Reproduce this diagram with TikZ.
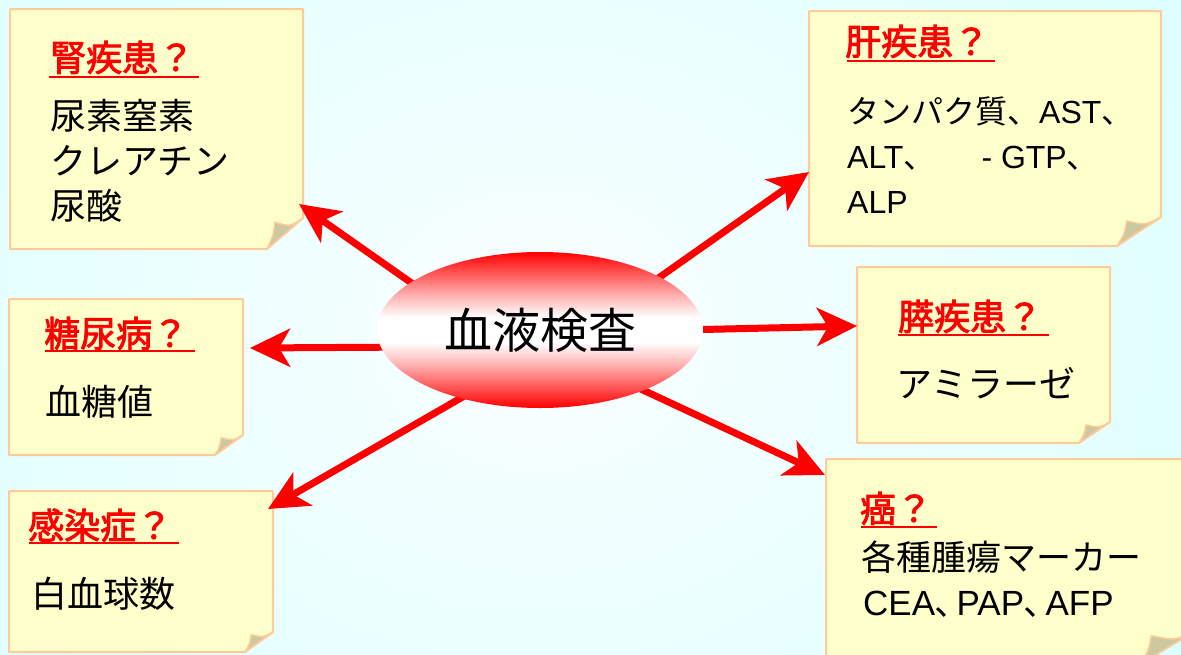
\documentclass[tikz,border=0pt]{standalone}
\usepackage{fontspec}
\setmainfont{Liberation Sans}
\newfontfamily\jp{Noto Sans CJK JP}
\newfontfamily\jpb[FakeBold=2.5]{Noto Sans CJK JP}
\usetikzlibrary{arrows.meta,shapes.geometric}
\definecolor{notefill}{RGB}{255,255,204}
\definecolor{noteline}{RGB}{255,204,153}
\definecolor{flapfill}{RGB}{204,200,160}
\definecolor{bgout}{RGB}{204,255,255}
\definecolor{bgin}{RGB}{250,255,255}
\pgfdeclareverticalshading{redmid}{100bp}{color(0bp)=(red); color(25bp)=(red); color(30bp)=(red!75!white); color(39bp)=(red!30!white); color(46bp)=(white); color(54bp)=(white); color(61bp)=(red!30!white); color(70bp)=(red!75!white); color(75bp)=(red); color(100bp)=(red)}
\newcommand\stickynote[6]{%
  \filldraw[notebox] (#1,#2) -- (#3,#2) -- (#3,#4-#6) -- (#3-#5,#4) -- (#1,#4) -- cycle;
  \filldraw[flap] (#3,#4-#6) .. controls (#3-0.35*#5,#4-0.72*#6) .. (#3-0.78*#5,#4-0.86*#6)
     .. controls (#3-0.82*#5,#4-0.45*#6) .. (#3-#5,#4) -- cycle;}
\begin{document}
\begin{tikzpicture}[x=1pt,y=-1pt,
  notebox/.style={fill=notefill, draw=noteline, line width=2pt, line join=round},
  flap/.style={fill=flapfill, draw=noteline, line width=1.5pt, line join=round},
  ttl/.style={anchor=base west, inner sep=0pt, text=red, font=\jpb\fontsize{36}{40}\selectfont},
  bodyjp/.style={anchor=base west, inner sep=0pt, font=\jp\fontsize{#1}{40}\selectfont},
  bodylat/.style={anchor=base west, inner sep=0pt, font=\fontsize{#1}{40}\selectfont},
  ul/.style={draw=red, line width=2.7pt},
  arr/.style={draw=red, line width=7pt, -{Stealth[length=40pt,width=38pt,inset=11pt]}}]
\useasboundingbox (0,0) rectangle (1181,654);
\clip (0,0) rectangle (1181,654);
% background
\shade[inner color=bgin, outer color=bgout] (-660,-650) rectangle (1740,1310);

% notes
\stickynote{10}{9}{303}{249}{36}{31}
\stickynote{809}{11}{1161}{246}{44}{29}
\stickynote{9}{299}{243}{455}{28}{20}
\stickynote{857}{267}{1110}{443}{31}{21}
\stickynote{9}{491}{273}{652}{28}{20}
\stickynote{826}{459}{1195}{665}{56}{34}

% note 1
\node[ttl] (t1h) at (50,71) {腎疾患？};
\draw[ul] (49,77) -- (199,77);
\node[bodyjp=36] (t1a) at (50,129) {尿素窒素};
\node[bodyjp=36] (t1b) at (50,174) {クレアチン};
\node[bodyjp=36] (t1c) at (50,219) {尿酸};
% note 2
\node[ttl] (t2h) at (845,55) {肝疾患？};
\draw[ul] (847,61) -- (995,61);
\node[bodylat=32] (t2a) at (847,123) {{\jp タンパク質、}AST{\jp 、}};
\node[bodylat=32] (t2b) at (847,168) {ALT{\jp 、}\hspace{46pt}- GTP{\jp 、}};
\node[bodylat=32] (t2c) at (847,213) {ALP};
% note 3
\node[ttl] (t3h) at (44,347) {糖尿病？};
\draw[ul] (45,351) -- (195,351);
\node[bodyjp=36] (t3a) at (45,415) {血糖値};
% note 4
\node[ttl] (t4h) at (898,330) {膵疾患？};
\draw[ul] (898,335) -- (1049,335);
\node[bodyjp=36] (t4a) at (896,397) {アミラーゼ};
% note 5
\node[ttl] (t5h) at (28,539) {感染症？};
\draw[ul] (29,543) -- (179,543);
\node[bodyjp=36] (t5a) at (31,607) {白血球数};
% note 6
\node[ttl] (t6h) at (860,522) {癌？};
\draw[ul] (861,527) -- (937,527);
\node[bodyjp=35] (t6a) at (861,570) {各種腫瘍マーカー};
\node[bodylat=35] (t6b) at (863,615) {CEA{\jp ､}\hspace{4pt}PAP{\jp ､}\hspace{4pt}AFP};

% arrows
\coordinate (s1) at (440,303); \coordinate (e1) at (299,204);
\coordinate (s2) at (630,298); \coordinate (e2) at (809,172);
\coordinate (s3) at (420,347); \coordinate (e3) at (250,348);
\coordinate (s4) at (680,330); \coordinate (e4) at (857,326);
\coordinate (s5) at (480,387); \coordinate (e5) at (268,509);
\coordinate (s6) at (600,370); \coordinate (e6) at (825,475);
\foreach \i in {1,...,6} {\draw[arr] (s\i) -- (e\i);}

% centre
\node[ellipse, minimum width=326pt, minimum height=156pt, inner sep=0pt, shade, shading=redmid,
      font=\jp\fontsize{48}{50}\selectfont] (blood) at (540,330) {血液検査};
\end{tikzpicture}
\end{document}
